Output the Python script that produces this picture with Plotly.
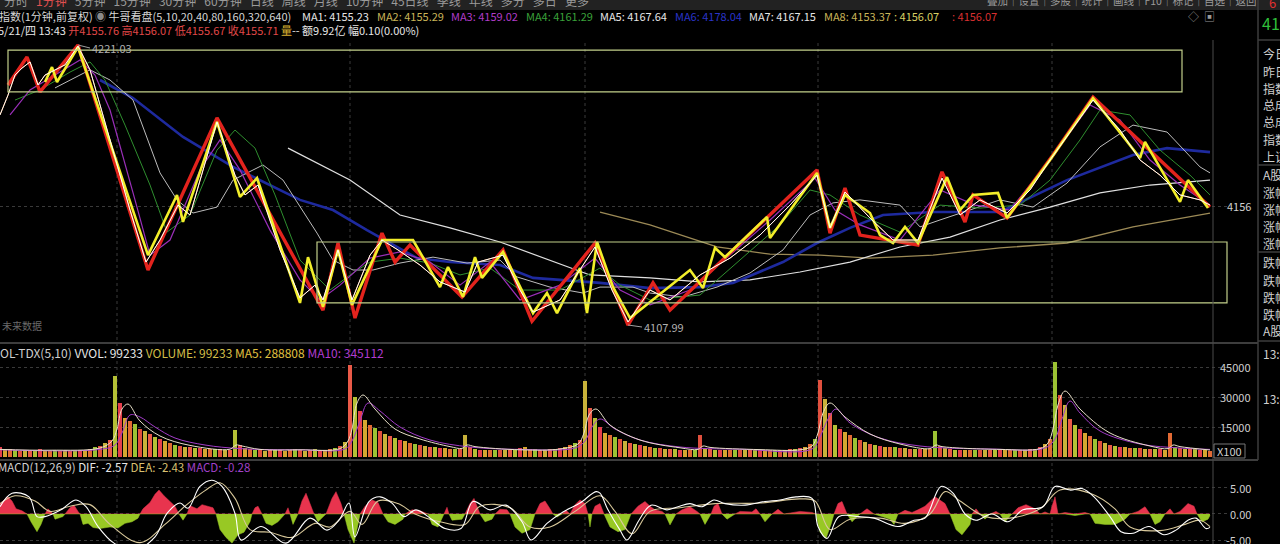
import plotly.graph_objects as go

W, H = 1280, 544

# ---------------- price panel (minute index, index level) ----------------
red_t = [8,27,40,78,148,217,323,338,355,382,395,410,462,503,532,595,628,653,670,817,830,845,860,918,942,965,973,1007,1053,1093,1210]
red_p = [4204.9,4216.2,4202.1,4221.03,4130.2,4191.6,4114.0,4141.1,4110.8,4145.1,4133.4,4140.3,4119.3,4138.3,4109.5,4141.1,4107.99,4125.0,4114.0,4170.6,4145.1,4163.3,4144.3,4140.3,4169.8,4149.6,4160.5,4151.2,4176.6,4200.0,4155.6]

yel_t = [45,52,57,78,148,177,183,217,240,257,300,308,323,338,352,382,393,413,440,448,463,475,482,503,533,547,557,580,587,597,613,630,690,703,715,725,767,770,817,830,845,870,880,893,905,918,947,960,973,998,1007,1050,1093,1140,1145,1180,1188,1208]
yel_p = [4206.1,4212.1,4206.1,4220.2,4136.2,4160.5,4149.6,4190.0,4159.7,4167.3,4116.9,4135.4,4115.3,4138.3,4116.1,4142.3,4142.3,4142.3,4123.3,4131.4,4119.3,4135.4,4127.0,4137.5,4112.8,4120.9,4112.8,4131.0,4112.8,4141.5,4123.3,4110.8,4130.2,4122.9,4139.1,4135.4,4151.6,4143.1,4169.4,4147.2,4160.5,4153.2,4144.3,4141.1,4147.6,4141.1,4167.7,4154.4,4160.5,4161.3,4151.2,4174.6,4199.6,4175.4,4181.9,4157.7,4166.5,4155.2]

close_t = [0,8,15,22,30,38,45,55,65,78,90,110,130,146,160,178,190,217,235,245,258,280,300,315,323,338,352,370,382,398,420,440,465,478,503,520,533,560,595,612,628,650,670,700,730,760,790,817,830,845,870,893,918,942,960,980,1007,1030,1050,1075,1093,1120,1140,1160,1180,1200,1210]
close_p = [4192.8,4200.8,4208.9,4211.7,4214.2,4204.9,4208.9,4211.0,4213.0,4220.6,4211.0,4182.7,4154.4,4133.4,4142.3,4156.4,4152.4,4190.0,4168.5,4160.5,4164.5,4138.3,4118.9,4124.1,4118.1,4138.3,4118.1,4136.2,4142.3,4138.3,4132.2,4125.4,4121.3,4133.4,4136.2,4122.1,4113.2,4118.1,4139.5,4122.1,4109.2,4122.1,4118.1,4128.2,4135.0,4144.3,4156.4,4168.5,4147.2,4161.7,4151.2,4142.3,4142.3,4167.3,4152.4,4158.5,4153.2,4162.5,4174.6,4188.7,4198.8,4186.7,4174.6,4168.5,4160.5,4158.5,4156.4]

ma3_t = [10,30,55,80,95,110,135,150,170,200,220,240,270,300,320,340,370,400,430,460,490,520,560,595,620,650,690,730,770,815,835,860,900,940,975,1010,1050,1090,1120,1150,1180,1210]
ma3_p = [4192.8,4202.9,4208.9,4215.0,4208.9,4194.8,4158.5,4136.2,4142.3,4170.6,4182.7,4170.6,4146.3,4126.2,4118.1,4124.1,4135.0,4137.5,4133.4,4124.1,4133.4,4118.1,4124.1,4135.0,4122.1,4116.1,4122.1,4136.2,4150.4,4167.3,4154.4,4148.4,4142.3,4162.5,4156.4,4154.4,4174.6,4196.8,4190.8,4174.6,4164.5,4156.4]

ma4_t = [15,40,70,90,105,125,150,167,190,217,235,255,275,300,330,350,370,400,430,460,490,520,560,600,620,650,700,740,780,810,830,860,900,940,980,1020,1050,1080,1100,1130,1160,1190,1210]
ma4_p = [4198.8,4202.9,4210.1,4214.2,4206.9,4188.7,4164.5,4145.5,4152.4,4178.6,4186.7,4179.4,4160.5,4134.2,4122.1,4128.2,4133.4,4135.0,4133.0,4128.2,4131.0,4122.1,4122.1,4131.0,4124.1,4118.1,4120.1,4134.2,4148.4,4162.5,4160.5,4152.4,4145.5,4156.4,4155.2,4156.4,4166.5,4182.7,4194.8,4192.8,4178.6,4168.5,4160.5]

ma5_t = [55,90,110,133,160,177,193,217,233,263,283,300,317,333,353,373,400,433,467,500,517,550,583,600,633,650,683,717,750,783,810,833,860,900,920,940,1000,1033,1067,1100,1133,1167,1200,1210]
ma5_p = [4203.7,4211.0,4206.9,4198.8,4169.4,4158.5,4153.2,4155.6,4166.5,4172.6,4166.5,4155.6,4145.1,4134.2,4130.2,4130.2,4133.0,4135.4,4133.0,4134.2,4127.4,4123.3,4120.9,4123.3,4123.3,4120.9,4119.3,4123.3,4129.0,4138.3,4152.4,4157.3,4158.5,4156.4,4147.6,4150.4,4158.5,4155.6,4165.3,4179.9,4188.7,4185.9,4171.8,4169.4]

ma6_t = [100,133,183,233,300,333,367,417,450,500,533,600,650,700,733,783,817,850,883,933,1000,1067,1133,1167,1210]
ma6_p = [4206.9,4199.6,4183.9,4171.8,4158.5,4154.4,4146.3,4135.0,4133.4,4132.2,4127.0,4125.0,4122.9,4123.3,4125.0,4133.4,4141.1,4147.2,4152.4,4153.6,4153.6,4166.5,4176.6,4179.4,4177.8]

ma7_t = [288,350,400,450,500,550,590,650,700,750,800,850,900,950,1000,1050,1100,1150,1210]
ma7_p = [4179.4,4166.5,4152.4,4147.2,4141.5,4134.2,4128.2,4127.0,4125.4,4126.2,4129.4,4133.4,4139.5,4143.5,4150.4,4155.6,4161.3,4164.5,4166.5]

ma8_t = [600,650,717,770,820,870,933,1000,1067,1133,1210]
ma8_p = [4153.6,4148.4,4139.5,4136.6,4136.2,4135.0,4136.2,4139.1,4141.1,4147.6,4153.2]

# rectangles drawn on the chart (start minute, end minute, low, high)
box1 = [8, 1182, 4202.1, 4219.0]
box2 = [317, 1227, 4116.9, 4141.5]

hi_t, hi_p = 78, 4221.03
lo_t, lo_p = 628, 4107.99
day_open_t = [117, 350, 585, 818, 1052]

# ---------------- volume (x100), one value every 5 minutes ----------------
VOL_STEP = 5
vol = [
    4800,4200,3800,3500,3200,3500,3000,3300,3800,3200,
    3000,3400,3100,3500,3000,2800,3300,3600,4200,4800,
    5500,7000,8700,40300,27000,19500,18000,16500,14000,13000,
    11500,10000,8800,7800,7000,6200,5600,5200,4800,4500,
    4300,4000,4100,3800,3900,3700,3600,13500,6000,4500,
    3800,3600,3400,3200,3700,3500,3300,3000,3600,3800,
    3400,3200,3500,3900,3600,3300,3800,4500,5500,7500,
    46000,30000,23000,18500,16000,14500,13000,11500,10500,9500,
    8700,8000,7200,6500,6000,5500,5200,4800,4600,4400,
    4200,4000,4100,11000,5000,4000,3600,3400,3500,3300,
    3600,3400,3800,3500,4500,5000,4200,3800,3600,3500,
    3800,4200,4500,5000,6000,7000,8500,37800,24500,19500,
    15000,12000,11000,10000,9000,8000,7200,6500,6000,5500,
    5000,4600,4400,4200,4000,3800,3700,3600,3500,3400,
    11000,4500,3800,3500,3400,3600,3300,3500,3700,3400,
    3300,3600,3500,3400,3700,3300,3500,3600,3800,4200,
    4500,5000,6500,9000,38700,29000,22000,16000,14000,12500,
    11000,9500,8500,7500,6500,6000,5500,5200,5000,4800,
    4500,4300,4100,4000,3900,3900,3800,12800,5300,4500,
    3800,3600,3700,3500,3400,3700,3600,3300,3500,3700,
    3400,3600,3500,3700,3400,3600,3800,4200,5000,6500,
    9000,47300,31000,26000,19000,16000,14000,12000,10500,9000,
    8000,7000,6000,5600,5200,4800,4600,4500,4300,4200,
    4000,3900,3800,3700,12000,5000,4500,4000,3800,4200,
    3500,3300,3200,
]
vma5_t = [0,50,100,112,117,122,128,140,160,190,230,236,242,260,300,340,348,352,357,363,375,395,420,450,462,467,475,520,560,578,584,589,596,610,640,680,698,703,710,760,800,812,818,823,830,845,870,900,930,936,942,1000,1040,1048,1053,1058,1065,1080,1110,1150,1168,1173,1180,1210]
vma5_v = [3800,3400,4500,8000,14000,24000,26500,18000,10500,5800,3900,6000,5500,3800,3600,4200,8000,14000,27000,31000,24000,14000,9000,5200,4300,6000,5200,3600,4000,6500,12000,21000,24000,16000,8500,4600,3800,5500,4800,3700,3600,5500,12000,22000,27000,20000,11500,6500,4200,6000,5200,3800,4200,7000,14000,26000,33000,24000,12000,5500,4200,6000,5200,3500]
vma10_t = [0,100,115,122,130,140,155,175,205,240,300,345,352,360,368,380,400,430,470,520,575,585,592,600,615,640,680,740,812,820,828,836,850,880,920,990,1045,1055,1062,1070,1080,1100,1140,1180,1210]
vma10_v = [3600,3800,6000,12000,21000,20000,15000,9500,6000,4200,3600,4000,8000,18000,27000,23000,15000,8500,5000,3800,4500,8000,15000,19000,14000,8500,5000,3900,4000,10000,19000,24000,17000,9500,5500,4000,4500,9000,19000,28000,22000,13000,6500,4500,3800]

# ---------------- MACD ----------------
dif_t = [0,12,29,37,45,61,76,86,98,114,135,155,167,180,188,200,212,222,235,241,261,286,310,327,339,349,355,369,380,392,404,416,433,445,461,473,490,506,522,531,547,563,580,596,600,608,620,627,639,651,667,678,690,702,714,725,745,765,780,796,812,818,827,839,859,874,898,914,925,941,953,965,976,992,1008,1023,1043,1055,1070,1082,1094,1110,1121,1133,1149,1164,1176,1188,1196,1206,1210]
dif_v = [1.4,4.0,3.3,-0.5,-0.5,0.8,2.7,1.4,-2.4,-5.6,-6.9,-4.4,0.1,2.1,1.1,5.3,6.5,5.3,0.1,-5.0,-2.4,-5.6,-0.8,-3.1,-1.2,2.1,-4.4,2.4,3.3,2.1,-0.5,0.8,-1.2,-2.8,-2.8,2.4,0.8,1.7,-1.5,-5.0,-1.8,0.4,2.1,4.3,4.0,0.8,-3.1,-5.0,-1.2,1.7,0.8,1.4,2.0,1.4,2.7,2.0,1.7,2.4,2.7,3.3,3.0,-2.4,-4.7,-0.5,-0.5,-0.8,-2.4,-1.2,-0.8,5.3,4.0,0.0,-1.2,0.0,-1.5,0.8,1.4,5.3,4.6,4.9,3.3,-0.5,-3.4,-3.7,-2.4,-4.0,-3.1,-1.2,-0.8,-2.8,-2.57]

dea_t = [0,15,35,50,70,90,110,140,165,185,205,220,235,250,270,292,315,330,350,362,378,398,415,440,465,480,510,530,550,575,600,615,632,650,680,715,760,800,815,830,850,880,905,930,945,960,985,1010,1040,1060,1090,1115,1130,1160,1185,1200,1210]
dea_v = [2.0,3.5,2.5,0.5,1.5,1.8,-2.0,-5.5,-2.0,1.5,4.5,6.0,3.0,-3.0,-3.5,-4.5,-1.8,-2.5,0.5,-2.0,2.5,2.0,0.0,-1.5,-2.0,1.5,1.2,-2.5,-2.5,0.5,3.5,0.5,-3.8,0.5,1.2,2.0,2.1,2.9,2.5,-3.0,-1.0,-0.8,-1.8,0.0,4.3,2.5,-0.5,-0.8,1.0,4.6,4.0,1.0,-2.5,-3.2,-2.0,-1.2,-2.43]

hist_t = [
    0,5,8,12,16,22,27,31,37,41,
    45,48,52,53,55,63,65,70,74,78,
    80,83,88,93,100,110,118,125,132,138,
    140,143,150,155,159,164,170,175,179,183,
    187,190,197,202,208,213,216,220,226,232,
    238,244,250,252,255,258,262,266,272,278,
    285,288,290,293,298,302,306,310,314,318,
    326,332,336,341,344,348,354,358,360,365,
    372,378,383,388,395,403,405,412,420,428,
    432,438,444,447,449,452,462,465,470,474,
    478,480,485,492,495,500,507,510,515,522,
    530,535,540,545,550,553,557,562,566,570,
    575,580,585,588,590,592,595,600,604,610,
    618,625,631,638,645,650,655,662,665,670,
    676,682,690,697,700,705,711,714,718,722,
    727,735,740,752,756,760,765,772,778,784,
    800,812,816,820,826,831,834,838,842,847,
    852,860,867,874,890,894,898,905,912,918,
    925,935,945,950,956,962,970,972,976,980,
    985,990,996,1000,1005,1012,1018,1026,1035,1040,
    1045,1050,1052,1055,1058,1065,1075,1085,1090,1095,
    1105,1115,1125,1130,1138,1145,1150,1155,1160,1165,
    1170,1174,1180,1188,1194,1197,1202,1208,1210,
]
hist_v = [
    2.0,2.8,3.3,2.5,1.0,0.6,0,-1.5,-3.4,-2.0,
    0,1.0,0.3,0,-1.0,-0.5,0,1.2,1.7,0.5,
    0,-2.0,-1.8,-2.6,-2.8,-2.5,-2.7,-1.8,-1.5,-0.8,
    0,1.0,2.2,3.8,4.6,3.5,2.5,1.5,0,-1.2,
    0,1.6,1.0,1.8,1.5,1.2,0,-3.0,-4.5,-5.6,
    -4.0,-3.5,-1.5,0,1.2,1.5,0,-1.8,-2.2,-1.5,
    0,1.2,0,-2.0,0,2.5,4.0,2.0,0,-1.5,
    0,3.0,4.3,2.0,0,-3.0,-5.6,-2.0,0,1.5,
    2.7,2.2,0,-1.5,-2.0,-1.0,0,0.8,0.6,0,
    -2.0,-2.5,0,1.3,0,-1.2,-1.0,0,2.0,3.0,
    1.0,0,-1.5,-1.0,0,0.9,0.8,0,-2.5,-3.7,
    -3.0,0,2.0,2.5,1.0,0,-0.6,0,0.7,0,
    1.8,2.7,2.0,0,-2.5,0,1.5,2.0,0,-2.5,
    -3.4,-3.0,0,1.5,2.4,1.5,0.8,0.5,0,-2.1,
    0,0.8,1.4,0.5,0,-2.0,0,1.5,2.0,0,
    -1.0,0,0.5,0.4,1.0,0,-1.5,0,0.9,0,
    0.5,0.3,0,-3.5,-4.7,-2.0,0,2.0,2.4,0,
    -1.5,0,1.0,0,-1.0,-2.0,0,0.7,0.3,0.8,
    1.5,3.3,2.0,0,-3.0,-4.0,-2.0,0,1.0,0,
    -1.0,0,0.5,0,-1.5,0,1.2,1.8,1.0,0,
    0.4,0,1.5,3.3,0,0.3,-0.3,0.3,0,-1.8,
    -2.0,-2.0,-1.0,0,0.5,1.4,0,-2.0,-1.5,0,
    1.0,0,0.5,2.0,1.5,0,-1.5,-1.0,-0.3,
]

# ---------------- texts ----------------
ma_names = ["MA1", "MA2", "MA3", "MA4", "MA5", "MA6", "MA7", "MA8"]
ma_vals = ["4155.23", "4155.29", "4159.02", "4161.29", "4167.64", "4178.04", "4167.15", "4153.37"]
ma_cols = ["#e6e6e6", "#c9b458", "#b03cc8", "#3aa03a", "#e6e6e6", "#2a34c8", "#e6e6e6", "#c9b458"]
side_labels = ["今日开盘", "昨日收盘", "指数涨跌", "总成交量", "总成交额", "指数振幅", "上证换手", "A股涨停",
               "涨幅>7%", "涨幅5-7%", "涨幅3-5%", "涨幅0-3%", "跌幅0-3%", "跌幅3-5%", "跌幅5-7%", "跌幅>7%", "A股跌停"]
vol_ticks = [15000, 30000, 45000]
macd_ticks = [-5, 0, 5]
price_tick = 4156

FONT = "Noto Sans CJK SC, Noto Sans, sans-serif"

# ---------------- figure ----------------
XR = 1228
fig = go.Figure()

def line(t, v, color, width, yaxis="y", shape="linear"):
    fig.add_trace(go.Scatter(x=t, y=v, mode="lines", yaxis=yaxis, hoverinfo="skip",
                             line=dict(color=color, width=width, shape=shape), showlegend=False))

# moving averages
line(ma8_t, ma8_p, "#9c8a56", 1.3)
line(ma7_t, ma7_p, "#e0e0e0", 1.2)
line(ma6_t, ma6_p, "#1e2a9e", 2.6)
line(ma5_t, ma5_p, "#bdbdbd", 1.0)
line(ma4_t, ma4_p, "#2f8f2f", 1.0)
line(ma3_t, ma3_p, "#9a2fb8", 1.2)
# zigzags and price
line(red_t, red_p, "#e3231d", 3.4)
line(close_t, close_p, "#f08a3a", 1.0)
line(yel_t, yel_p, "#f2ee2a", 2.6)
line(close_t, close_p, "#ffffff", 1.0)

# volume bars
vol_pal = ["#e5404c", "#d4a630", "#e26a34", "#9cc234", "#e0503e", "#c8b23a", "#ea5a48", "#b4c036"]
vol_x = [i * VOL_STEP for i in range(len(vol))]
fig.add_trace(go.Bar(x=vol_x, y=vol, yaxis="y2", width=4.6, hoverinfo="skip", showlegend=False,
                     marker=dict(color=[vol_pal[i % len(vol_pal)] for i in range(len(vol))], line_width=0)))
line(vma10_t, vma10_v, "#a23cc8", 1.0, "y2", "spline")
line(vma5_t, vma5_v, "#e8e0c8", 1.0, "y2", "spline")

# MACD histogram as filled areas
pos = [max(v, 0) for v in hist_v]
neg = [min(v, 0) for v in hist_v]
fig.add_trace(go.Scatter(x=hist_t, y=pos, yaxis="y3", mode="lines", fill="tozeroy", hoverinfo="skip",
                         line=dict(color="#e8344e", width=0.5), fillcolor="#e8344e", showlegend=False))
fig.add_trace(go.Scatter(x=hist_t, y=neg, yaxis="y3", mode="lines", fill="tozeroy", hoverinfo="skip",
                         line=dict(color="#98c824", width=0.5), fillcolor="#98c824", showlegend=False))
line(dea_t, dea_v, "#d8c89a", 1.1, "y3", "spline")
line(dif_t, dif_v, "#ffffff", 1.1, "y3", "spline")

def px(x):
    return x / W

def py(y):
    return 1 - y / H

shapes = []
# top strip
shapes.append(dict(type="rect", xref="paper", yref="paper", x0=0, x1=1, y0=py(10), y1=1,
                   fillcolor="#222222", line_width=0, layer="below"))
# boxes
for b in (box1, box2):
    shapes.append(dict(type="rect", xref="x", yref="y", x0=b[0], x1=b[1], y0=b[2], y1=b[3],
                       line=dict(color="#c2cf8a", width=1.2)))
# day separators (dotted)
for t in day_open_t:
    shapes.append(dict(type="line", xref="x", yref="paper", x0=t, x1=t, y0=0, y1=py(40),
                       line=dict(color="#3a3a3a", width=1, dash="dot"), layer="below"))
# panel separators
for yy in (343, 460):
    shapes.append(dict(type="line", xref="paper", yref="paper", x0=0, x1=px(1258), y0=py(yy), y1=py(yy),
                       line=dict(color="#3d3d3d", width=2)))
shapes.append(dict(type="line", xref="paper", yref="paper", x0=px(1213), x1=px(1213), y0=0, y1=py(40),
                   line=dict(color="#4a4a4a", width=1)))
shapes.append(dict(type="line", xref="paper", yref="paper", x0=px(1258), x1=px(1258), y0=py(460), y1=1,
                   line=dict(color="#3d3d3d", width=1.5)))
for yy in (40, 165, 252, 341):
    shapes.append(dict(type="line", xref="paper", yref="paper", x0=px(1258), x1=1, y0=py(yy), y1=py(yy),
                       line=dict(color="#3d3d3d", width=1.5)))
# X100 box
shapes.append(dict(type="rect", xref="paper", yref="paper", x0=px(1214), x1=px(1245), y0=py(458), y1=py(444),
                   line=dict(color="#777777", width=1)))

ann = []

def text(x, y, s, size=11, color="#d0d0d0", xanchor="left", yref="paper"):
    ann.append(dict(x=px(x), y=(py(y) if yref == "paper" else y), xref="paper", yref=yref, text=s,
                    showarrow=False, xanchor=xanchor, yanchor="middle",
                    font=dict(family=FONT, size=size, color=color)))

# top menu strip (cut)
text(2, 1, "分时 &nbsp; <span style='color:#e05050'>1分钟</span> &nbsp; 5分钟 &nbsp; 15分钟 &nbsp; 30分钟 &nbsp; 60分钟 &nbsp; 日线 &nbsp; 周线 &nbsp; 月线 &nbsp; 10分钟 &nbsp; 45日线 &nbsp; 季线 &nbsp; 年线 &nbsp; 多分 &nbsp; 多日 &nbsp; 更多",
     12, "#9a9a9a")
text(985, 1, "叠加│设置│多股│统计│画线│F10│标记│自选│返回", 10.5, "#9a9a9a")
text(1267, 3, "6", 13, "#e03030")
text(1260, 23, "41", 16, "#2fbf3a")

# header line 1
text(-3, 16, "<span style='color:#d6d6d6'>指数(1分钟,前复权) <span style='color:#8a8a8a'>◉</span> 牛哥看盘(5,10,20,40,80,160,320,640)</span>", 11)
ma_x = [300, 374.5, 449, 523.5, 598, 672.5, 747, 821.5]
for xx, n, v, c in zip(ma_x, ma_names, ma_vals, ma_cols):
    text(xx, 16, f"{n}: {v}", 11, c)
text(892, 16, ": 4156.07", 11, "#d8d064")
text(950, 16, ": 4156.07", 11, "#d83030")
text(1186, 16, "◇ &nbsp;▣", 11, "#9a9a9a")
# header line 2
text(-4, 30, "<span style='color:#e6e6e6'>5/21/四 13:43 </span><span style='color:#e04848'>开4155.76 高4156.07 低4155.67 收4155.71</span> <span style='color:#d8b030'>量</span><span style='color:#e6e6e6'>-- 额9.92亿 幅0.10(0.00%)</span>", 11)

text(0, 325, "未来数据", 10, "#6a6a6a")

# peak / trough marks
ann.append(dict(x=hi_t, y=hi_p, xref="x", yref="y", text=f"{hi_p:.2f}", showarrow=True, ax=12, ay=3,
                arrowhead=0, arrowwidth=1, arrowcolor="#a0a0a0", xanchor="left",
                font=dict(family=FONT, size=11, color="#b0b0b0")))
ann.append(dict(x=lo_t, y=lo_p, xref="x", yref="y", text=f"{lo_p:.2f}", showarrow=True, ax=14, ay=2,
                arrowhead=0, arrowwidth=1, arrowcolor="#a0a0a0", xanchor="left",
                font=dict(family=FONT, size=11, color="#b0b0b0")))

# right axis labels
text(1253, price_tick, str(price_tick), 11, "#d0d0d0", "right", "y")
for v in vol_ticks:
    text(1253, v, str(v), 11, "#d0d0d0", "right", "y2")
for v in macd_ticks:
    text(1253, v, f"{v:.2f}", 11, "#d0d0d0", "right", "y3")
text(1229.5, 451, "X100", 11, "#d0d0d0", "center")

# volume / macd headers
text(-2, 352, "<span style='color:#cfcfcf'>OL-TDX(5,10)</span> <span style='color:#e6e6e6'>VVOL: 99233</span> <span style='color:#d2be48'>VOLUME: 99233</span> <span style='color:#e0c040'>MA5: 288808</span> <span style='color:#b03cd0'>MA10: 345112</span>", 12)
text(-4, 467, "<span style='color:#cfcfcf'>MACD(12,26,9)</span> <span style='color:#e6e6e6'>DIF: -2.57</span> <span style='color:#d8c070'>DEA: -2.43</span> <span style='color:#a040c8'>MACD: -0.28</span>", 11.5)

# side panel
side_y = [54, 72, 89, 105, 122, 139, 156, 174, 192, 210, 227, 244, 262, 280, 297, 314, 330]
for s, yy in zip(side_labels, side_y):
    text(1261, yy, s, 12, "#cfcfcf")
text(1261, 353, "13:43", 12, "#cfcfcf")
text(1261, 398, "13:43", 12, "#cfcfcf")

grid = dict(showgrid=True, gridcolor="#3a3a3a", griddash="dot", gridwidth=1, zeroline=False,
            showticklabels=False, ticks="", showline=False, fixedrange=True)

fig.update_layout(
    width=W, height=H, margin=dict(l=0, r=0, t=0, b=0),
    paper_bgcolor="#000000", plot_bgcolor="#000000",
    showlegend=False, bargap=0, hovermode=False,
    xaxis=dict(domain=[0, XR / W], range=[0, XR], visible=False, fixedrange=True),
    yaxis=dict(domain=[py(340), py(40)], range=[4101.94, 4223.05], tickvals=[price_tick], **grid),
    yaxis2=dict(domain=[py(458), py(345)], range=[-500, 56000], tickvals=vol_ticks, anchor="x", **grid),
    yaxis3=dict(domain=[0, py(461)], range=[-5.77, 10.19], tickvals=macd_ticks, anchor="x", **grid),
    shapes=shapes, annotations=ann,
)

fig.write_html("out.html", config=dict(displayModeBar=False, staticPlot=True),
               post_script="document.body.style.margin='0';document.body.style.overflow='hidden';")
